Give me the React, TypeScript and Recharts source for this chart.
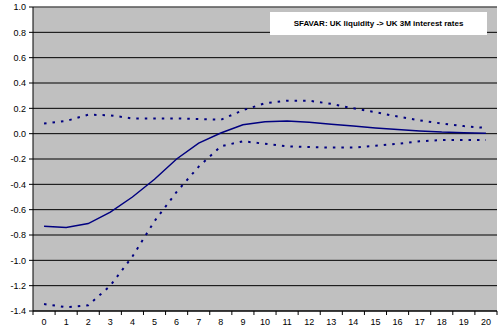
import { LineChart, Line, XAxis, YAxis, CartesianGrid, ReferenceLine } from "recharts";

const steps = ["0", "1", "2", "3", "4", "5", "6", "7", "8", "9", "10", "11", "12", "13", "14", "15", "16", "17", "18", "19", "20"];
const irf = [-0.73, -0.74, -0.71, -0.62, -0.5, -0.36, -0.2, -0.075, 0.005, 0.07, 0.095, 0.1, 0.09, 0.075, 0.06, 0.045, 0.032, 0.022, 0.013, 0.008, 0.003];
const upper = [0.08, 0.1, 0.15, 0.145, 0.12, 0.12, 0.12, 0.115, 0.11, 0.185, 0.24, 0.26, 0.26, 0.235, 0.2, 0.17, 0.135, 0.105, 0.08, 0.06, 0.045];
const lower = [-1.345, -1.37, -1.355, -1.2, -0.97, -0.69, -0.46, -0.26, -0.1, -0.06, -0.08, -0.1, -0.105, -0.11, -0.11, -0.095, -0.08, -0.06, -0.05, -0.05, -0.05];
const yTicks = [-1.4, -1.2, -1.0, -0.8, -0.6, -0.4, -0.2, 0, 0.2, 0.4, 0.6, 0.8, 1.0];
const title = "SFAVAR: UK liquidity -> UK 3M interest rates";

const data = steps.map((s, i) => ({ step: s, irf: irf[i], upper: upper[i], lower: lower[i] }));

const W = 504;
const H = 333;
const LEFT = 33;
const RIGHT = 7;
const font = "'Liberation Sans', Arial, sans-serif";
const navy = "#000080";

// category ticks sit between the labels, like Excel
const band = (W - LEFT - RIGHT) / steps.length;

function XTick(props: any) {
  const { x, y, payload, index } = props;
  const axisY = y - 8;
  return (
    <g>
      <line x1={x - band / 2} x2={x - band / 2} y1={axisY} y2={axisY + 4} stroke="#000" />
      {index === steps.length - 1 && (
        <line x1={x + band / 2} x2={x + band / 2} y1={axisY} y2={axisY + 4} stroke="#000" />
      )}
      <text x={x} y={y} dy="0.71em" textAnchor="middle" fontSize={9} fontFamily={font} fill="#000">
        {payload.value}
      </text>
    </g>
  );
}

export default function App() {
  return (
    <div style={{ position: "absolute", left: 0, top: 0, width: W, height: H, background: "#fff" }}>
      <LineChart width={W} height={H} data={data} margin={{ top: 7, right: RIGHT, left: 0, bottom: 0 }}>
        <CartesianGrid vertical={false} stroke="#000" fill="#C0C0C0" fillOpacity={1} />
        <XAxis
          dataKey="step"
          height={22}
          padding={{ left: band / 2, right: band / 2 }}
          tickLine={false}
          tickSize={4}
          tickMargin={4}
          axisLine={{ stroke: "#000" }}
          interval={0}
          tick={<XTick />}
        />
        <YAxis
          width={LEFT}
          domain={[-1.4, 1]}
          ticks={yTicks}
          interval={0}
          tickSize={4}
          tickMargin={3}
          tickFormatter={(v: number) => v.toFixed(1)}
          tick={{ fontSize: 9, fontFamily: font, fill: "#000" }}
          tickLine={{ stroke: "#000" }}
          axisLine={{ stroke: "#000" }}
        />
        <YAxis
          yAxisId="r"
          orientation="right"
          width={0}
          domain={[-1.4, 1]}
          tick={false}
          tickLine={false}
          axisLine={{ stroke: "#808080" }}
        />
        <ReferenceLine y={1} stroke="#808080" />
        <Line type="linear" dataKey="upper" stroke={navy} strokeWidth={2} strokeDasharray="2.5 6" dot={false} isAnimationActive={false} />
        <Line type="linear" dataKey="lower" stroke={navy} strokeWidth={2} strokeDasharray="2.5 6" dot={false} isAnimationActive={false} />
        <Line type="linear" dataKey="irf" stroke={navy} strokeWidth={1.5} dot={false} isAnimationActive={false} />
      </LineChart>
      <div
        style={{
          position: "absolute",
          left: 270,
          top: 12,
          width: 217,
          height: 23,
          background: "#fff",
          display: "flex",
          alignItems: "center",
          justifyContent: "center",
          fontFamily: font,
          fontWeight: "bold",
          fontSize: 8,
          color: "#000",
          whiteSpace: "nowrap",
        }}
      >
        {title}
      </div>
    </div>
  );
}
